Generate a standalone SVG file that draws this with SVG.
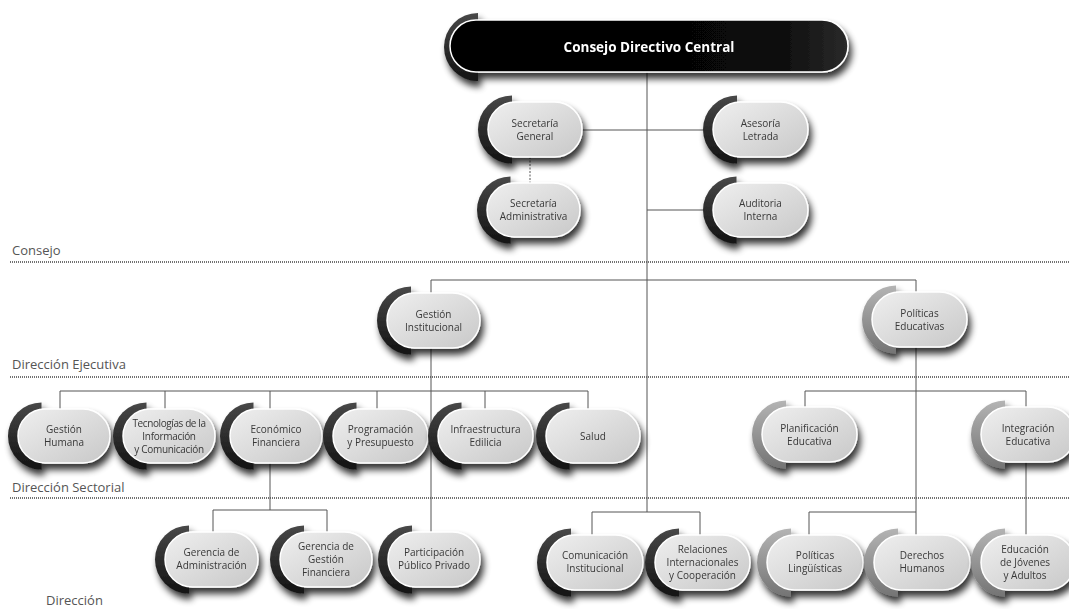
<svg xmlns="http://www.w3.org/2000/svg" width="1069" height="609" viewBox="0 0 1069 609">
<defs>
<style>
.pill{fill:url(#gL);stroke:#fff;stroke-width:1.5}
.cr{fill:url(#gD)}
.crl{fill:url(#gG)}
.t{font-family:"Open Sans","Noto Sans",sans-serif;font-size:10px;fill:#383838;text-anchor:middle}
.lvl{font-family:"Open Sans","Noto Sans",sans-serif;font-size:13px;fill:#555}
.ln{stroke:#555;stroke-width:1;fill:none}
.dl{stroke:#444;stroke-width:1.3;stroke-dasharray:1 1;fill:none}
</style>
<linearGradient id="gL" x1="0" y1="0" x2="1" y2="1"><stop offset="0" stop-color="#efefef"/><stop offset="1" stop-color="#c8c8c8"/></linearGradient>
<linearGradient id="gD" x1="0" y1="0" x2="0" y2="1"><stop offset="0" stop-color="#484848"/><stop offset="1" stop-color="#121212"/></linearGradient>
<linearGradient id="gG" x1="0" y1="0" x2="0" y2="1"><stop offset="0" stop-color="#b4b4b4"/><stop offset="1" stop-color="#747474"/></linearGradient>
<linearGradient id="gK" x1="0" y1="0" x2="1" y2="0"><stop offset="0" stop-color="#000"/><stop offset="0.8" stop-color="#080808"/><stop offset="1" stop-color="#2a2a2a"/></linearGradient>
<filter id="sh" x="-20%" y="-30%" width="140%" height="180%">
<feGaussianBlur in="SourceAlpha" stdDeviation="3.5"/>
<feOffset dx="3" dy="6" result="o"/>
<feComponentTransfer><feFuncA type="linear" slope="0.8"/></feComponentTransfer>
<feMerge><feMergeNode/><feMergeNode in="SourceGraphic"/></feMerge>
</filter>
</defs>
<rect width="1069" height="609" fill="#fff"/>

<g id="levels">
<text class="lvl" x="12" y="255">Consejo</text>
<path class="dl" d="M10 262H1069"/>
<text class="lvl" x="12" y="369">Dirección Ejecutiva</text>
<path class="dl" d="M10 377H1069"/>
<text class="lvl" x="12" y="492">Dirección Sectorial</text>
<path class="dl" d="M10 498H1069"/>
<text class="lvl" x="46" y="605">Dirección</text>
</g>

<g id="connectors">
<path class="ln" d="M647 72V512"/>
<path class="ln" d="M582 130H713"/>
<path class="ln" d="M647 210H713"/>
<path class="ln" d="M530 157V183" stroke-dasharray="2 1.5"/>
<path class="ln" d="M431 280H916"/>
<path class="ln" d="M431 280V533"/>
<path class="ln" d="M916 280V536"/>
<path class="ln" d="M60 391H588M60 391V410M165 391V410M270 391V410M377 391V410M485 391V410M588 391V410"/>
<path class="ln" d="M270 463V510M213 510H327M213 510V533M327 510V533"/>
<path class="ln" d="M805 391H1026M805 391V408M1026 391V408M1026 462V536"/>
<path class="ln" d="M592 512H700M592 512V536M700 512V536"/>
<path class="ln" d="M809 512H916M809 512V536"/>
</g>

<g id="n-consejo" filter="url(#sh)">
<path class="cr" d="M478 13A34 34 0 0 0 478 81Z"/>
<rect x="450" y="20" width="398" height="52" rx="26" fill="url(#gK)" stroke="#fff" stroke-width="1.5"/>
<text x="649" y="52" font-family="'Open Sans','Noto Sans',sans-serif" font-size="13.5" font-weight="700" fill="#fff" text-anchor="middle">Consejo Directivo Central</text>
</g>

<g id="n-secgen" filter="url(#sh)">
<path class="cr" d="M512 95.5A34 34 0 0 0 512 163.5Z"/>
<rect class="pill" x="488" y="102" width="94" height="55" rx="27.5"/>
<text class="t" x="535" y="126.5">Secretaría</text><text class="t" x="535" y="139.5">General</text>
</g>

<g id="n-asesoria" filter="url(#sh)">
<path class="cr" d="M737 95.5A34 34 0 0 0 737 163.5Z"/>
<rect class="pill" x="713" y="102" width="95" height="55" rx="27.5"/>
<text class="t" x="760.5" y="126.5">Asesoría</text><text class="t" x="760.5" y="139.5">Letrada</text>
</g>

<g id="n-secadm" filter="url(#sh)">
<path class="cr" d="M510.5 176.5A33.5 33.5 0 0 0 510.5 243.5Z"/>
<rect class="pill" x="487" y="183" width="93" height="54" rx="27"/>
<text class="t" x="533.5" y="207">Secretaría</text><text class="t" x="533.5" y="220">Administrativa</text>
</g>

<g id="n-auditoria" filter="url(#sh)">
<path class="cr" d="M736.5 176.5A33.5 33.5 0 0 0 736.5 243.5Z"/>
<rect class="pill" x="713" y="183" width="95" height="54" rx="27"/>
<text class="t" x="760.5" y="207">Auditoria</text><text class="t" x="760.5" y="220">Interna</text>
</g>

<g id="n-gestinst" filter="url(#sh)">
<path class="cr" d="M411 286.5A34 34 0 0 0 411 354.5Z"/>
<rect class="pill" x="387" y="293" width="93" height="55" rx="27.5"/>
<text class="t" x="433.5" y="317.5">Gestión</text><text class="t" x="433.5" y="330.5">Institucional</text>
</g>

<g id="n-poledu" filter="url(#sh)">
<path class="crl" d="M896 285.5A34 34 0 0 0 896 353.5Z"/>
<rect class="pill" x="872" y="292" width="95" height="55" rx="27.5"/>
<text class="t" x="919.5" y="316.5">Políticas</text><text class="t" x="919.5" y="329.5">Educativas</text>
</g>

<g id="n-gesthum" filter="url(#sh)">
<path class="cr" d="M41.5 402.5A33.5 33.5 0 0 0 41.5 469.5Z"/>
<rect class="pill" x="18" y="409" width="92" height="54" rx="27"/>
<text class="t" x="64" y="433">Gestión</text><text class="t" x="64" y="446">Humana</text>
</g>

<g id="n-tic" filter="url(#sh)">
<path class="cr" d="M146.5 402.5A33.5 33.5 0 0 0 146.5 469.5Z"/>
<rect class="pill" x="123" y="409" width="92" height="54" rx="27"/>
<text class="t" x="169" y="426.5" letter-spacing="-0.4">Tecnologías de la</text><text class="t" x="169" y="439.5" letter-spacing="-0.3">Información</text><text class="t" x="169" y="452.5" letter-spacing="-0.3">y Comunicación</text>
</g>

<g id="n-econ" filter="url(#sh)">
<path class="cr" d="M253.5 402.5A33.5 33.5 0 0 0 253.5 469.5Z"/>
<rect class="pill" x="230" y="409" width="92" height="54" rx="27"/>
<text class="t" x="276" y="433">Económico</text><text class="t" x="276" y="446">Financiera</text>
</g>

<g id="n-prog" filter="url(#sh)">
<path class="cr" d="M356.5 402.5A33.5 33.5 0 0 0 356.5 469.5Z"/>
<rect class="pill" x="333" y="409" width="95" height="54" rx="27"/>
<text class="t" x="380.5" y="433">Programación</text><text class="t" x="380.5" y="446">y Presupuesto</text>
</g>

<g id="n-infra" filter="url(#sh)">
<path class="cr" d="M461.5 402.5A33.5 33.5 0 0 0 461.5 469.5Z"/>
<rect class="pill" x="438" y="409" width="95" height="54" rx="27"/>
<text class="t" x="485.5" y="433">Infraestructura</text><text class="t" x="485.5" y="446">Edilicia</text>
</g>

<g id="n-salud" filter="url(#sh)">
<path class="cr" d="M569.5 402.5A33.5 33.5 0 0 0 569.5 469.5Z"/>
<rect class="pill" x="546" y="409" width="94" height="54" rx="27"/>
<text class="t" x="593" y="439.5">Salud</text>
</g>

<g id="n-planif" filter="url(#sh)">
<path class="crl" d="M786 400.5A34 34 0 0 0 786 468.5Z"/>
<rect class="pill" x="762" y="407" width="95" height="55" rx="27.5"/>
<text class="t" x="809.5" y="431.5">Planificación</text><text class="t" x="809.5" y="444.5">Educativa</text>
</g>

<g id="n-integ" filter="url(#sh)">
<path class="crl" d="M1005 400.5A34 34 0 0 0 1005 468.5Z"/>
<rect class="pill" x="981" y="407" width="94" height="55" rx="27.5"/>
<text class="t" x="1028" y="431.5">Integración</text><text class="t" x="1028" y="444.5">Educativa</text>
</g>

<g id="n-geradm" filter="url(#sh)">
<path class="cr" d="M189 525.5A34 34 0 0 0 189 593.5Z"/>
<rect class="pill" x="165" y="532" width="93" height="55" rx="27.5"/>
<text class="t" x="211.5" y="556">Gerencia de</text><text class="t" x="211.5" y="569">Administración</text>
</g>

<g id="n-gergf" filter="url(#sh)">
<path class="cr" d="M304 525.5A34 34 0 0 0 304 593.5Z"/>
<rect class="pill" x="280" y="532" width="92" height="55" rx="27.5"/>
<text class="t" x="326" y="549.5">Gerencia de</text><text class="t" x="326" y="562.5">Gestión</text><text class="t" x="326" y="575.5">Financiera</text>
</g>

<g id="n-ppp" filter="url(#sh)">
<path class="cr" d="M412 525.5A34 34 0 0 0 412 593.5Z"/>
<rect class="pill" x="388" y="532" width="92" height="55" rx="27.5"/>
<text class="t" x="434" y="556">Participación</text><text class="t" x="434" y="569">Público Privado</text>
</g>

<g id="n-comins" filter="url(#sh)">
<path class="cr" d="M571 528.5A34 34 0 0 0 571 596.5Z"/>
<rect class="pill" x="547" y="535" width="96" height="55" rx="27.5"/>
<text class="t" x="595" y="559">Comunicación</text><text class="t" x="595" y="572">Institucional</text>
</g>

<g id="n-relint" filter="url(#sh)">
<path class="cr" d="M679 528.5A34 34 0 0 0 679 596.5Z"/>
<rect class="pill" x="655" y="535" width="95" height="55" rx="27.5"/>
<text class="t" x="702.5" y="552.5">Relaciones</text><text class="t" x="702.5" y="565.5">Internacionales</text><text class="t" x="702.5" y="578.5">y Cooperación</text>
</g>

<g id="n-polling" filter="url(#sh)">
<path class="crl" d="M791 528.5A34 34 0 0 0 791 596.5Z"/>
<rect class="pill" x="767" y="535" width="96" height="55" rx="27.5"/>
<text class="t" x="815" y="559">Políticas</text><text class="t" x="815" y="572">Lingüísticas</text>
</g>

<g id="n-derhum" filter="url(#sh)">
<path class="crl" d="M898 528.5A34 34 0 0 0 898 596.5Z"/>
<rect class="pill" x="874" y="535" width="96" height="55" rx="27.5"/>
<text class="t" x="922" y="559">Derechos</text><text class="t" x="922" y="572">Humanos</text>
</g>

<g id="n-eja" filter="url(#sh)">
<path class="crl" d="M1005 528.5A34 34 0 0 0 1005 596.5Z"/>
<rect class="pill" x="981" y="535" width="94" height="55" rx="27.5"/>
<text class="t" x="1025" y="552.5">Educación</text><text class="t" x="1025" y="565.5">de Jóvenes</text><text class="t" x="1025" y="578.5">y Adultos</text>
</g>
</svg>
